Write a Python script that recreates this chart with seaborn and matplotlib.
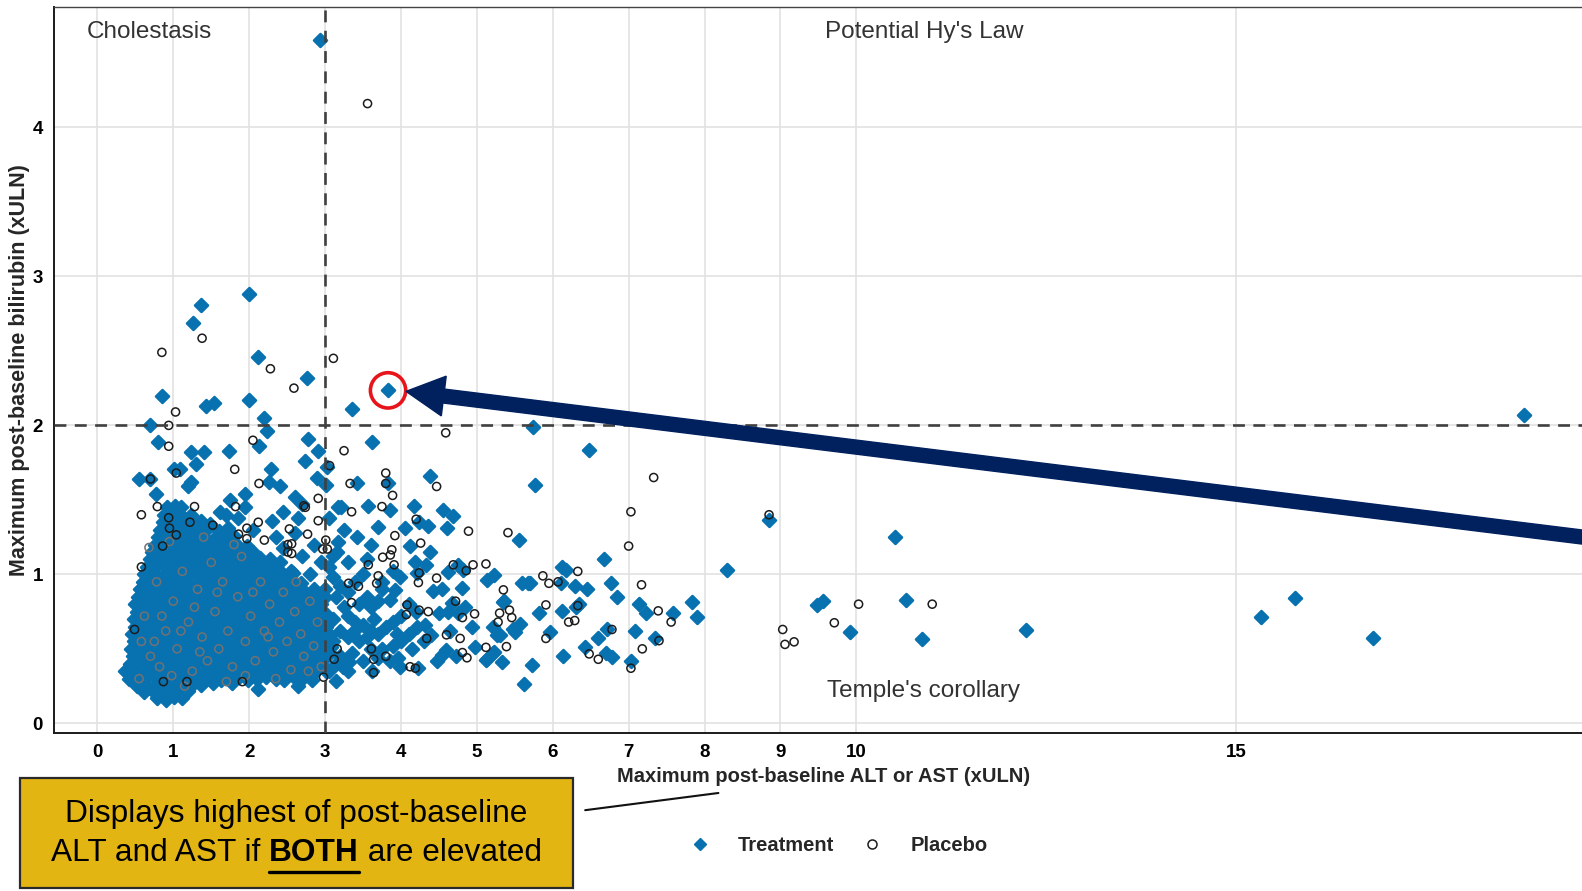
import numpy as np
import pandas as pd
import seaborn as sns
import matplotlib
matplotlib.use("Agg")
import matplotlib.pyplot as plt
from matplotlib.patches import Ellipse, FancyArrow, Rectangle
from matplotlib.lines import Line2D
from matplotlib.transforms import IdentityTransform

# ---------------- data ----------------
x_ticks = [0, 1, 2, 3, 4, 5, 6, 7, 8, 9, 10, 15]
y_ticks = [0, 1, 2, 3, 4]
alt_threshold = 3
bili_threshold = 2
highlight_point = (3.83, 2.235)

region_labels = ["Cholestasis", "Potential Hy's Law", "Temple's corollary"]
region_x = [0.68, 10.89, 10.89]
region_y = [4.64, 4.64, 0.22]

trt_outer = [
    (2.94, 4.59), (2.00, 2.88), (1.37, 2.81), (1.26, 2.69), (2.12, 2.46), (2.76, 2.32),
    (3.83, 2.235), (3.35, 2.11), (0.85, 2.20), (1.43, 2.13), (1.54, 2.15), (2.00, 2.17),
    (2.20, 2.05), (0.70, 2.00), (2.24, 1.96), (0.80, 1.89), (2.13, 1.86), (2.77, 1.91),
    (1.23, 1.82), (1.41, 1.82), (1.74, 1.83), (2.91, 1.83), (1.30, 1.74), (2.74, 1.76),
    (1.01, 1.71), (1.09, 1.71), (2.29, 1.71), (3.03, 1.72), (0.55, 1.64), (0.70, 1.64),
    (1.19, 1.59), (1.23, 1.62), (2.26, 1.62), (2.40, 1.59), (2.90, 1.65), (3.01, 1.60),
    (0.77, 1.54), (1.94, 1.54), (2.61, 1.52), (2.69, 1.47), (1.75, 1.50), (3.17, 1.455),
    (3.62, 1.89), (3.42, 1.61), (3.83, 1.61), (4.38, 1.66), (5.74, 1.99), (5.77, 1.60),
    (3.21, 1.455), (3.56, 1.46), (3.86, 1.43), (4.17, 1.46), (4.56, 1.435), (4.68, 1.39),
    (4.05, 1.31), (4.24, 1.35), (4.36, 1.325), (4.61, 1.31), (5.55, 1.23), (3.17, 1.22),
    (4.12, 1.19), (4.38, 1.15), (3.16, 1.15), (6.48, 1.835), (6.67, 1.10), (6.12, 1.05),
    (6.17, 1.03), (8.30, 1.03), (5.70, 0.94), (6.11, 0.94), (6.29, 0.92), (6.45, 0.90),
    (6.77, 0.94), (6.85, 0.85), (6.35, 0.80), (6.31, 0.78), (5.82, 0.74), (6.12, 0.755),
    (7.14, 0.80), (7.23, 0.74), (7.59, 0.74), (7.83, 0.815), (7.90, 0.717), (5.97, 0.616),
    (6.71, 0.634), (6.60, 0.57), (7.09, 0.62), (7.35, 0.57), (6.42, 0.51), (6.70, 0.475),
    (6.78, 0.445), (6.13, 0.45), (7.03, 0.42), (5.73, 0.39), (8.85, 1.366), (10.51, 1.25),
    (9.48, 0.795), (9.56, 0.82), (9.92, 0.616), (10.65, 0.83), (10.86, 0.567), (5.13, 0.963),
    (5.23, 0.997), (5.59, 0.945), (5.68, 0.94), (5.35, 0.815), (5.12, 0.426), (5.21, 0.475),
    (5.33, 0.415), (5.62, 0.265), (12.23, 0.627), (15.33, 0.715), (15.78, 0.838),
    (16.81, 0.574), (18.80, 2.07),
    (4.18, 1.08), (4.33, 1.06), (4.21, 1.01), (4.62, 1.015), (4.75, 1.06), (4.82, 1.03),
    (3.99, 0.985), (3.92, 0.896), (3.85, 0.83), (4.42, 0.885), (4.54, 0.90), (4.81, 0.91),
    (4.84, 0.78), (4.67, 0.81), (5.36, 0.82), (4.50, 0.74), (4.62, 0.745), (4.75, 0.74),
    (4.21, 0.65), (4.32, 0.66), (4.94, 0.65), (5.21, 0.645), (5.30, 0.594), (5.50, 0.61),
    (5.57, 0.67), (4.40, 0.59), (4.65, 0.62), (4.97, 0.515), (4.60, 0.49), (4.54, 0.46),
    (4.48, 0.42), (4.73, 0.45), (5.13, 0.43), (5.22, 0.48), (4.23, 0.37), (3.99, 0.38),
    (3.96, 0.44), (3.15, 0.285), (3.24, 0.38), (3.31, 0.41), (5.27, 0.59), (5.48, 0.63),
    (3.05, 1.05), (3.10, 0.98), (3.20, 0.92), (3.15, 0.85), (3.30, 0.88), (3.40, 0.95),
    (3.50, 1.00), (3.45, 0.80), (3.55, 0.85), (3.60, 0.78), (3.70, 0.82), (3.75, 0.90),
    (3.30, 0.72), (3.40, 0.68), (3.50, 0.66), (3.60, 0.62), (3.70, 0.60), (3.80, 0.65),
    (3.90, 0.68), (4.00, 0.72), (4.10, 0.60), (4.00, 0.55), (3.90, 0.52), (3.75, 0.50),
    (3.60, 0.50), (3.45, 0.55), (3.30, 0.58), (3.20, 0.62), (3.10, 0.55), (3.05, 0.48),
    (3.20, 0.45), (3.35, 0.47), (3.50, 0.42), (3.70, 0.44), (3.85, 0.42), (3.10, 0.70),
    (3.25, 0.78), (3.00, 0.90), (4.10, 0.80), (4.20, 0.75), (4.30, 0.55), (4.15, 0.50),
    (3.95, 0.60), (3.65, 0.70), (3.55, 0.58), (3.38, 0.62), (3.15, 0.40), (3.30, 0.35),
    (3.05, 0.35), (3.62, 0.35), (3.75, 0.95), (3.90, 1.02), (3.55, 1.10), (3.30, 1.08),
    (3.42, 1.25), (3.60, 1.20), (3.25, 1.30), (3.05, 1.38), (3.70, 1.32),
    (2.35, 1.25), (2.45, 1.18), (2.60, 1.28), (2.70, 1.12), (2.85, 1.20), (2.95, 1.08),
    (2.40, 1.08), (2.55, 1.02), (2.80, 1.00), (3.10, 1.12), (2.65, 1.38), (2.45, 1.42),
    (2.30, 1.36), (1.62, 1.42), (1.85, 1.38), (2.05, 1.30), (1.95, 1.45),
]

trt_core = [
    (0.78, 0.17), (0.90, 0.16), (1.01, 0.18), (1.12, 0.17), (0.62, 0.21), (0.73, 0.22),
    (0.85, 0.21), (0.96, 0.22), (1.07, 0.21), (1.19, 0.22),
    (0.52, 0.25), (0.64, 0.26), (0.76, 0.25), (0.88, 0.26), (1.00, 0.25), (1.12, 0.26),
    (1.24, 0.25), (1.37, 0.26), (1.52, 0.27), (2.12, 0.23), (2.65, 0.25), (1.78, 0.27),
    (0.42, 0.30), (0.55, 0.29), (0.66, 0.31), (0.79, 0.30), (0.90, 0.29), (1.03, 0.30),
    (1.15, 0.31), (1.26, 0.29), (1.39, 0.30), (1.50, 0.31), (1.63, 0.29), (1.74, 0.30),
    (1.87, 0.31), (1.98, 0.29), (2.11, 0.30), (2.22, 0.31), (2.35, 0.30), (2.46, 0.29),
    (2.59, 0.31), (2.70, 0.30), (2.83, 0.29),
    (0.36, 0.35), (0.48, 0.36), (0.61, 0.34), (0.72, 0.35), (0.85, 0.36), (0.96, 0.34),
    (1.09, 0.35), (1.20, 0.36), (1.33, 0.34), (1.45, 0.35), (1.57, 0.36), (1.69, 0.35),
    (1.81, 0.34), (1.93, 0.35), (2.05, 0.36), (2.17, 0.34), (2.29, 0.35), (2.41, 0.36),
    (2.53, 0.35), (2.65, 0.34), (2.77, 0.35), (2.89, 0.36), (3.01, 0.35),
    (0.43, 0.40), (0.55, 0.41), (0.67, 0.39), (0.79, 0.40), (0.91, 0.41), (1.03, 0.40),
    (1.14, 0.39), (1.27, 0.40), (1.39, 0.41), (1.51, 0.40), (1.63, 0.39), (1.75, 0.40),
    (1.87, 0.41), (1.99, 0.40), (2.11, 0.39), (2.23, 0.40), (2.35, 0.41), (2.47, 0.40),
    (2.59, 0.39), (2.71, 0.40), (2.83, 0.41), (2.95, 0.40),
    (0.47, 0.45), (0.60, 0.46), (0.72, 0.44), (0.84, 0.45), (0.97, 0.46), (1.09, 0.45),
    (1.21, 0.44), (1.33, 0.45), (1.45, 0.46), (1.57, 0.45), (1.69, 0.44), (1.81, 0.45),
    (1.93, 0.46), (2.05, 0.45), (2.17, 0.44), (2.29, 0.45), (2.41, 0.46), (2.53, 0.45),
    (2.65, 0.44), (2.77, 0.45), (2.89, 0.46), (3.02, 0.45),
    (0.44, 0.50), (0.54, 0.51), (0.66, 0.49), (0.78, 0.50), (0.90, 0.51), (1.02, 0.50),
    (1.15, 0.49), (1.27, 0.50), (1.39, 0.51), (1.51, 0.50), (1.63, 0.49), (1.75, 0.50),
    (1.87, 0.51), (1.99, 0.50), (2.11, 0.49), (2.23, 0.50), (2.35, 0.51), (2.47, 0.50),
    (2.59, 0.49), (2.71, 0.50), (2.83, 0.51), (2.95, 0.50), (3.08, 0.51),
    (0.48, 0.55), (0.60, 0.56), (0.72, 0.54), (0.84, 0.55), (0.96, 0.56), (1.08, 0.55),
    (1.21, 0.54), (1.33, 0.55), (1.45, 0.56), (1.57, 0.55), (1.69, 0.54), (1.81, 0.55),
    (1.93, 0.56), (2.05, 0.55), (2.17, 0.54), (2.29, 0.55), (2.41, 0.56), (2.53, 0.55),
    (2.65, 0.54), (2.77, 0.55), (2.89, 0.56), (3.01, 0.55),
    (0.46, 0.60), (0.56, 0.61), (0.66, 0.59), (0.78, 0.60), (0.90, 0.61), (1.02, 0.60),
    (1.14, 0.59), (1.27, 0.60), (1.39, 0.61), (1.51, 0.60), (1.63, 0.59), (1.75, 0.60),
    (1.87, 0.61), (1.99, 0.60), (2.11, 0.59), (2.23, 0.60), (2.35, 0.61), (2.47, 0.60),
    (2.59, 0.59), (2.71, 0.60), (2.83, 0.61), (2.95, 0.60), (3.07, 0.59),
    (0.50, 0.65), (0.62, 0.66), (0.72, 0.64), (0.84, 0.65), (0.96, 0.66), (1.08, 0.65),
    (1.20, 0.64), (1.33, 0.65), (1.45, 0.66), (1.57, 0.65), (1.69, 0.64), (1.81, 0.65),
    (1.93, 0.66), (2.05, 0.65), (2.17, 0.64), (2.29, 0.65), (2.41, 0.66), (2.53, 0.65),
    (2.65, 0.64), (2.77, 0.65), (2.89, 0.66), (3.01, 0.65),
    (0.48, 0.70), (0.57, 0.71), (0.67, 0.69), (0.79, 0.70), (0.91, 0.71), (1.03, 0.70),
    (1.15, 0.69), (1.27, 0.70), (1.39, 0.71), (1.51, 0.70), (1.63, 0.69), (1.75, 0.70),
    (1.87, 0.71), (1.99, 0.70), (2.11, 0.69), (2.23, 0.70), (2.35, 0.71), (2.47, 0.70),
    (2.59, 0.69), (2.71, 0.70), (2.83, 0.71), (2.95, 0.70),
    (0.52, 0.75), (0.63, 0.76), (0.73, 0.74), (0.85, 0.75), (0.97, 0.76), (1.09, 0.75),
    (1.21, 0.74), (1.33, 0.75), (1.45, 0.76), (1.57, 0.75), (1.69, 0.74), (1.81, 0.75),
    (1.93, 0.76), (2.05, 0.75), (2.17, 0.74), (2.29, 0.75), (2.41, 0.76), (2.53, 0.75),
    (2.65, 0.74), (2.77, 0.75), (2.89, 0.76), (3.00, 0.74),
    (0.50, 0.80), (0.58, 0.81), (0.68, 0.79), (0.80, 0.80), (0.92, 0.81), (1.04, 0.80),
    (1.16, 0.79), (1.28, 0.80), (1.40, 0.81), (1.52, 0.80), (1.64, 0.79), (1.76, 0.80),
    (1.88, 0.81), (2.00, 0.80), (2.12, 0.79), (2.24, 0.80), (2.36, 0.81), (2.48, 0.80),
    (2.60, 0.79), (2.72, 0.80), (2.84, 0.81), (2.95, 0.80),
    (0.54, 0.85), (0.64, 0.86), (0.74, 0.84), (0.86, 0.85), (0.98, 0.86), (1.10, 0.85),
    (1.22, 0.84), (1.34, 0.85), (1.46, 0.86), (1.58, 0.85), (1.70, 0.84), (1.82, 0.85),
    (1.94, 0.86), (2.06, 0.85), (2.18, 0.84), (2.30, 0.85), (2.42, 0.86), (2.54, 0.85),
    (2.66, 0.84), (2.78, 0.85), (2.90, 0.86), (3.00, 0.85),
    (0.56, 0.90), (0.68, 0.91), (0.80, 0.89), (0.92, 0.90), (1.04, 0.91), (1.16, 0.90),
    (1.28, 0.89), (1.40, 0.90), (1.52, 0.91), (1.64, 0.90), (1.76, 0.89), (1.88, 0.90),
    (2.00, 0.91), (2.12, 0.90), (2.24, 0.89), (2.36, 0.90), (2.48, 0.91), (2.60, 0.90),
    (2.72, 0.89), (2.86, 0.90),
    (0.60, 0.95), (0.72, 0.96), (0.84, 0.94), (0.96, 0.95), (1.08, 0.96), (1.20, 0.95),
    (1.32, 0.94), (1.44, 0.95), (1.56, 0.96), (1.68, 0.95), (1.80, 0.94), (1.92, 0.95),
    (2.04, 0.96), (2.16, 0.95), (2.28, 0.94), (2.40, 0.95), (2.55, 0.96), (2.68, 0.94),
    (0.62, 1.00), (0.74, 1.01), (0.86, 0.99), (0.98, 1.00), (1.10, 1.01), (1.22, 1.00),
    (1.34, 0.99), (1.46, 1.00), (1.58, 1.01), (1.70, 1.00), (1.82, 0.99), (1.94, 1.00),
    (2.06, 1.01), (2.18, 1.00), (2.30, 0.99), (2.45, 1.00), (2.58, 1.01),
    (0.66, 1.05), (0.78, 1.06), (0.90, 1.04), (1.02, 1.05), (1.14, 1.06), (1.26, 1.05),
    (1.38, 1.04), (1.50, 1.05), (1.62, 1.06), (1.74, 1.05), (1.86, 1.04), (1.98, 1.05),
    (2.10, 1.06), (2.22, 1.05), (2.36, 1.04),
    (0.70, 1.10), (0.82, 1.11), (0.94, 1.09), (1.06, 1.10), (1.18, 1.11), (1.30, 1.10),
    (1.42, 1.09), (1.54, 1.10), (1.66, 1.11), (1.78, 1.10), (1.90, 1.09), (2.02, 1.10),
    (2.14, 1.11), (2.28, 1.10),
    (0.72, 1.15), (0.84, 1.16), (0.96, 1.14), (1.08, 1.15), (1.20, 1.16), (1.32, 1.15),
    (1.44, 1.14), (1.56, 1.15), (1.68, 1.16), (1.80, 1.15), (1.92, 1.14), (2.05, 1.15),
    (0.76, 1.20), (0.88, 1.21), (1.00, 1.19), (1.12, 1.20), (1.24, 1.21), (1.36, 1.20),
    (1.48, 1.19), (1.60, 1.20), (1.72, 1.21), (1.84, 1.20), (1.97, 1.19),
    (0.80, 1.25), (0.92, 1.26), (1.04, 1.24), (1.16, 1.25), (1.28, 1.26), (1.40, 1.25),
    (1.54, 1.24), (1.66, 1.25), (1.80, 1.26),
    (0.83, 1.30), (0.95, 1.31), (1.07, 1.29), (1.19, 1.30), (1.31, 1.31), (1.43, 1.30),
    (1.60, 1.29), (1.72, 1.31),
    (0.86, 1.35), (0.98, 1.36), (1.10, 1.34), (1.22, 1.35), (1.36, 1.36), (1.48, 1.34),
    (0.88, 1.40), (1.00, 1.41), (1.12, 1.39), (1.24, 1.40), (1.70, 1.40),
    (0.92, 1.45), (1.02, 1.46), (1.10, 1.45),
]

pbo_outer = [
    (3.56, 4.16), (3.11, 2.45), (0.85, 2.49), (1.38, 2.585), (2.28, 2.38), (2.59, 2.25),
    (1.03, 2.09), (0.94, 2.00), (0.94, 1.86), (2.05, 1.90), (1.81, 1.705), (3.06, 1.73),
    (0.70, 1.64), (1.04, 1.68), (2.13, 1.61), (2.91, 1.51), (0.79, 1.455), (1.82, 1.455),
    (1.28, 1.455), (2.74, 1.45), (0.58, 1.40), (0.94, 1.38), (1.22, 1.35), (2.12, 1.35),
    (2.91, 1.36), (2.53, 1.305), (2.77, 1.27), (2.20, 1.23), (2.56, 1.205), (3.01, 1.23),
    (2.51, 1.20), (2.51, 1.15), (2.56, 1.14), (0.95, 1.31), (1.04, 1.265), (1.97, 1.31),
    (1.97, 1.24), (1.86, 1.27), (1.52, 1.33), (0.86, 1.19), (2.97, 1.17),
    (4.59, 1.95), (3.25, 1.83), (3.80, 1.68), (3.80, 1.61), (3.89, 1.53), (3.33, 1.61),
    (4.47, 1.59), (2.72, 1.46), (3.35, 1.42), (3.75, 1.455), (4.20, 1.37), (4.89, 1.29),
    (5.41, 1.28), (3.92, 1.26), (4.26, 1.21), (3.88, 1.165), (3.86, 1.13), (3.03, 1.17),
    (7.33, 1.65), (7.03, 1.42), (7.00, 1.19), (6.33, 1.02), (5.87, 0.99), (5.95, 0.94),
    (6.07, 0.95), (7.17, 0.93), (5.91, 0.795), (6.33, 0.79), (7.39, 0.755), (7.56, 0.68),
    (6.21, 0.68), (6.29, 0.69), (6.78, 0.63), (5.91, 0.57), (7.40, 0.555), (7.18, 0.50),
    (6.48, 0.466), (6.60, 0.43), (7.03, 0.37),
    (8.85, 1.40), (9.03, 0.63), (9.06, 0.53), (9.18, 0.547), (9.71, 0.675), (10.03, 0.80),
    (11.00, 0.80), (5.12, 1.07), (5.35, 0.896), (5.30, 0.74), (5.43, 0.76), (5.46, 0.71),
    (5.28, 0.68), (5.39, 0.515), (5.12, 0.51),
    (3.76, 1.115), (3.57, 1.064), (3.70, 0.99), (3.68, 0.94), (3.91, 1.064), (4.24, 1.01),
    (4.23, 0.945), (4.47, 0.975), (4.69, 1.064), (4.95, 1.064), (4.86, 1.025), (3.31, 0.94),
    (3.44, 0.92), (3.35, 0.81), (4.08, 0.795), (4.07, 0.73), (4.36, 0.75), (4.24, 0.76),
    (4.72, 0.82), (4.97, 0.735), (4.81, 0.71), (4.60, 0.594), (4.78, 0.57), (4.34, 0.57),
    (4.81, 0.475), (4.87, 0.44), (4.12, 0.38), (4.19, 0.37), (3.80, 0.45), (3.64, 0.34),
    (3.16, 0.50), (3.12, 0.43), (3.61, 0.50), (3.64, 0.43),
    (0.58, 1.05), (0.49, 0.63), (1.91, 0.28), (1.18, 0.28), (0.87, 0.28), (2.98, 0.31),
]

pbo_core = [
    (0.55, 0.30), (0.70, 0.45), (0.62, 0.72), (0.82, 0.38), (0.90, 0.62), (0.78, 0.95),
    (1.00, 0.82), (1.05, 0.50), (1.12, 1.02), (1.20, 0.68), (1.25, 0.35), (1.32, 0.90),
    (1.38, 0.58), (1.45, 0.42), (1.50, 1.08), (1.55, 0.75), (1.60, 0.50), (1.65, 0.95),
    (1.72, 0.62), (1.78, 0.38), (1.85, 0.85), (1.90, 1.12), (1.95, 0.55), (2.02, 0.72),
    (2.08, 0.42), (2.15, 0.95), (2.20, 0.62), (2.27, 0.80), (2.32, 0.48), (2.40, 0.68),
    (2.45, 0.88), (2.50, 0.55), (2.55, 0.36), (2.60, 0.75), (2.68, 0.60), (2.72, 0.45),
    (2.80, 0.82), (2.85, 0.52), (2.90, 0.68), (2.95, 0.38), (0.68, 1.18), (0.95, 1.22),
    (1.15, 0.25), (1.40, 1.25), (1.80, 1.20), (0.58, 0.55), (0.85, 0.72), (1.28, 0.78),
    (1.70, 0.28), (2.35, 0.30), (2.05, 0.88), (1.58, 0.88), (1.10, 0.62), (0.75, 0.55),
    (2.62, 0.95), (2.78, 0.35), (1.95, 0.32), (1.35, 0.48), (0.98, 0.32), (2.25, 0.58),
]

# ---------------- frames ----------------
def frame(points, arm):
    return pd.DataFrame(points, columns=["alt", "bili"]).assign(arm=arm)

df_trt = pd.concat([frame(trt_core, "Treatment"), frame(trt_outer, "Treatment")], ignore_index=True)
df_pbo_core = frame(pbo_core, "Placebo")
df_pbo_outer = frame(pbo_outer, "Placebo")

# ---------------- style ----------------
sns.set_theme(style="white")
plt.rcParams["font.family"] = ["Liberation Sans", "DejaVu Sans"]

W, H = 1582, 891
fig = plt.figure(figsize=(W / 100, H / 100), dpi=100)
ax = fig.add_axes([0.0341, 0.1773, 0.9735, 0.8143])

blue = "#0871b0"

sns.scatterplot(data=df_trt, x="alt", y="bili", ax=ax, marker="D", s=44,
                color=blue, edgecolor=blue, linewidth=1.8, joinstyle="round",
                legend=False, zorder=3)
sns.scatterplot(data=df_pbo_core, x="alt", y="bili", ax=ax, marker="o", s=34,
                facecolor="none", edgecolor="#727272", linewidth=1.1, legend=False, zorder=4)
sns.scatterplot(data=df_pbo_outer, x="alt", y="bili", ax=ax, marker="o", s=34,
                facecolor="none", edgecolor="#1c1c1c", linewidth=1.1, legend=False, zorder=4)

ax.set_xlim(-0.572, 19.72)
ax.set_ylim(-0.065, 4.805)
ax.set_xticks(x_ticks)
ax.set_yticks(y_ticks)
ax.set_xticklabels([str(t) for t in x_ticks], fontweight="bold", fontsize=13.5, color="black")
ax.set_yticklabels([str(t) for t in y_ticks], fontweight="bold", fontsize=13.5, color="black")
ax.grid(True, color="#e2e2e2", linewidth=1.2)
ax.set_axisbelow(True)
ax.tick_params(axis="both", length=4, width=1.0, color="#333333", pad=4, direction="out")

for side in ["left", "bottom"]:
    ax.spines[side].set_color("#1a1a1a")
    ax.spines[side].set_linewidth(1.4)
ax.spines["top"].set_color("#444444")
ax.spines["top"].set_linewidth(1.0)
ax.spines["right"].set_visible(False)

ax.axvline(alt_threshold, color="#404040", linewidth=1.9, linestyle=(0, (4.5, 3.2)), zorder=5)
ax.axhline(bili_threshold, color="#404040", linewidth=1.9, linestyle=(0, (4.5, 3.2)), zorder=5)

for lab, tx, ty in zip(region_labels, region_x, region_y):
    ax.text(tx, ty, lab, ha="center", va="center", fontsize=17.5, color="#333333", zorder=6)

ax.set_xlabel("Maximum post-baseline ALT or AST (xULN)", fontweight="bold", fontsize=14.5, va="center")
ax.xaxis.set_label_coords(0.5, -0.0593)
ax.set_ylabel("Maximum post-baseline bilirubin (xULN)", fontweight="bold", fontsize=15.5, va="center")
ax.yaxis.set_label_coords(-0.0221, 0.5)

# highlight circle around the point
ax.add_patch(Ellipse(highlight_point, 0.465, 0.237, fill=False, edgecolor="#e8141b",
                     linewidth=2.6, zorder=7))

# legend
handles = [
    Line2D([], [], marker="D", linestyle="none", markersize=6, markerfacecolor=blue,
           markeredgecolor=blue),
    Line2D([], [], marker="o", linestyle="none", markersize=6.5, markerfacecolor="none",
           markeredgecolor="#1c1c1c", markeredgewidth=1.1),
]
fig.legend(handles, ["Treatment", "Placebo"], loc="center", bbox_to_anchor=(0.527, 0.051),
           ncol=2, frameon=False, prop={"weight": "bold", "size": 14.5},
           handletextpad=0.9, columnspacing=0.9)

# callout box
box_x0, box_x1 = 0.0128, 0.3622
box_y0, box_y1 = 0.0034, 0.1268
fig.patches.append(Rectangle((box_x0, box_y0), box_x1 - box_x0, box_y1 - box_y0,
                             transform=fig.transFigure, facecolor="#e2b513",
                             edgecolor="#2a2a2a", linewidth=1.6, zorder=10))
fig.add_artist(Line2D([0.3699, 0.4541], [0.0907, 0.1100], transform=fig.transFigure,
                      color="#111111", linewidth=1.5))

box_cx = (box_x0 + box_x1) / 2
fs_box = 22.8
fig.text(box_cx, 0.0862, "Displays highest of post-baseline", ha="center", va="center",
         fontsize=fs_box, color="black", zorder=11)

renderer = fig.canvas.get_renderer()
parts = [("ALT and AST if ", "normal"), ("BOTH", "bold"), (" are elevated", "normal")]
widths = []
for txt, wt in parts:
    t = fig.text(0, 0, txt, fontsize=fs_box, fontweight=wt)
    widths.append(t.get_window_extent(renderer).width / W)
    t.remove()
total = sum(widths)
xpos = box_cx - total / 2
line2_y = 0.0432
for (txt, wt), wd in zip(parts, widths):
    fig.text(xpos, line2_y, txt, ha="left", va="center", fontsize=fs_box, fontweight=wt,
             color="black", zorder=11)
    if txt == "BOTH":
        fig.add_artist(Line2D([xpos, xpos + wd], [line2_y - 0.022, line2_y - 0.022],
                              transform=fig.transFigure, color="black", linewidth=2.4, zorder=11))
    xpos += wd

# big navy arrow pointing to the highlighted point
fig.canvas.draw()
px, py = ax.transData.transform(highlight_point)
tip_x, tip_y = px + 18, py - 1
tail_x, tail_y = tip_x + 1300, tip_y - 161
arrow = FancyArrow(tail_x, tail_y, tip_x - tail_x, tip_y - tail_y, width=14, head_width=40,
                   head_length=38, length_includes_head=True, transform=IdentityTransform(),
                   color="#00205e", zorder=20)
fig.add_artist(arrow)

fig.savefig("out.png", dpi=100)
